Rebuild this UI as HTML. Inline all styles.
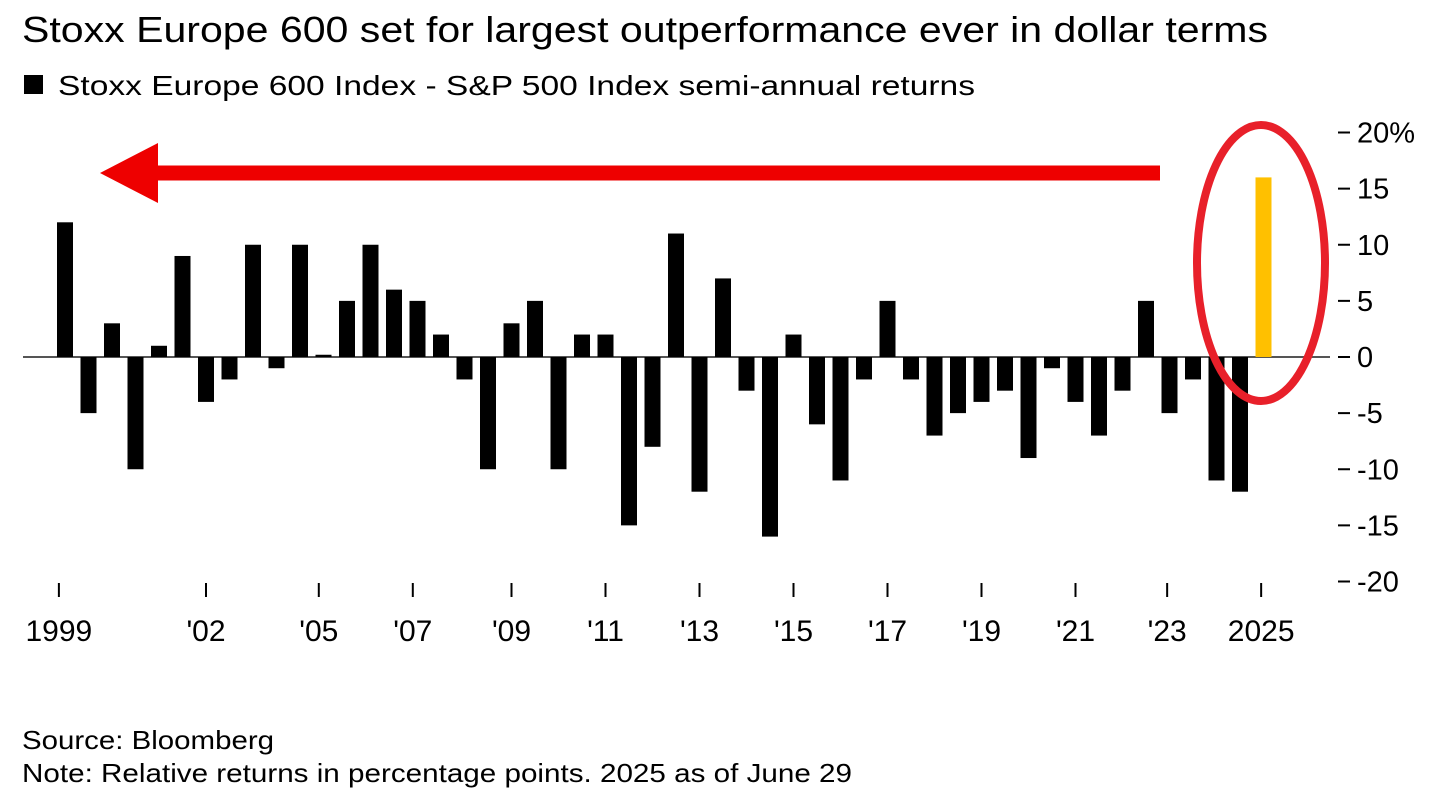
<!DOCTYPE html>
<html><head><meta charset="utf-8"><style>
body{margin:0;background:#fff;width:1449px;height:802px;overflow:hidden;font-family:"Liberation Sans",sans-serif;}
svg{position:absolute;left:0;top:0}
</style></head><body>
<svg width="1449" height="802">
<text x="22" y="42" font-size="36" textLength="1246" lengthAdjust="spacingAndGlyphs" fill="#000">Stoxx Europe 600 set for largest outperformance ever in dollar terms</text>
<rect x="24" y="75" width="19" height="19" fill="#000"/>
<text x="58" y="95" font-size="28" textLength="917" lengthAdjust="spacingAndGlyphs" fill="#000">Stoxx Europe 600 Index - S&amp;P 500 Index semi-annual returns</text>
<line x1="23" y1="357" x2="1330" y2="357" stroke="#555" stroke-width="2"/>
<g id="bars"></g><g id="yaxis"></g><g id="xaxis"></g>
<line x1="1160" y1="173" x2="150" y2="173" stroke="#ee0000" stroke-width="15"/>
<polygon points="100,173 158,143 158,203" fill="#ee0000"/>
<ellipse cx="1261" cy="263" rx="64" ry="138" fill="none" stroke="#e8202a" stroke-width="8"/>
<text x="22" y="749" font-size="26" textLength="252" lengthAdjust="spacingAndGlyphs" fill="#000">Source: Bloomberg</text>
<text x="22" y="782" font-size="26" textLength="830" lengthAdjust="spacingAndGlyphs" fill="#000">Note: Relative returns in percentage points. 2025 as of June 29</text>
</svg>
<script>
const values=[12,-5,3,-10,1,9,-4,-2,10,-1,10,0.2,5,10,6,5,2,-2,-10,3,5,-10,2,2,-15,-8,11,-12,7,-3,-16,2,-6,-11,-2,5,-2,-7,-5,-4,-3,-9,-1,-4,-7,-3,5,-5,-2,-11,-12,16];
const yTicks=[20,15,10,5,0,-5,-10,-15,-20];
const xLabels=["1999","'02","'05","'07","'09","'11","'13","'15","'17","'19","'21","'23","2025"];
const xLabelIdx=[-0.26,6.0,10.8,14.8,19,23,27,31,35,39,43,46.9,50.9];
const NS="http://www.w3.org/2000/svg";
const xs=i=>65+23.5*i;
const ys=v=>357-v*11.225;
const bars=document.getElementById('bars');
values.forEach((v,i)=>{
  const r=document.createElementNS(NS,'rect');
  const y0=ys(Math.max(v,0)),y1=ys(Math.min(v,0));
  r.setAttribute('x',xs(i)-8);r.setAttribute('width',16);
  r.setAttribute('y',y0);r.setAttribute('height',Math.max(y1-y0,1));
  r.setAttribute('fill',i===values.length-1?'#ffc000':'#000');
  
  
  bars.appendChild(r);
});
const ya=document.getElementById('yaxis');
yTicks.forEach(t=>{
  const l=document.createElementNS(NS,'line');
  l.setAttribute('x1',1338);l.setAttribute('x2',1350);l.setAttribute('y1',ys(t));l.setAttribute('y2',ys(t));
  l.setAttribute('stroke','#000');l.setAttribute('stroke-width',2);
  
  
  ya.appendChild(l);
  const tx=document.createElementNS(NS,'text');
  tx.setAttribute('x',1357);tx.setAttribute('y',ys(t)+10);tx.setAttribute('font-size',29);
  tx.textContent=t===20?'20%':String(t);
  
  
  ya.appendChild(tx);
});
const xa=document.getElementById('xaxis');
xLabels.forEach((s,k)=>{
  const x=xs(xLabelIdx[k]);
  const l=document.createElementNS(NS,'line');
  l.setAttribute('x1',x);l.setAttribute('x2',x);l.setAttribute('y1',583);l.setAttribute('y2',597);
  l.setAttribute('stroke','#000');l.setAttribute('stroke-width',2);
  
  
  xa.appendChild(l);
  const tx=document.createElementNS(NS,'text');
  tx.setAttribute('x',x);tx.setAttribute('y',641);tx.setAttribute('font-size',30);tx.setAttribute('text-anchor','middle');
  tx.textContent=s;
  
  
  xa.appendChild(tx);
});
</script>
</body></html>
